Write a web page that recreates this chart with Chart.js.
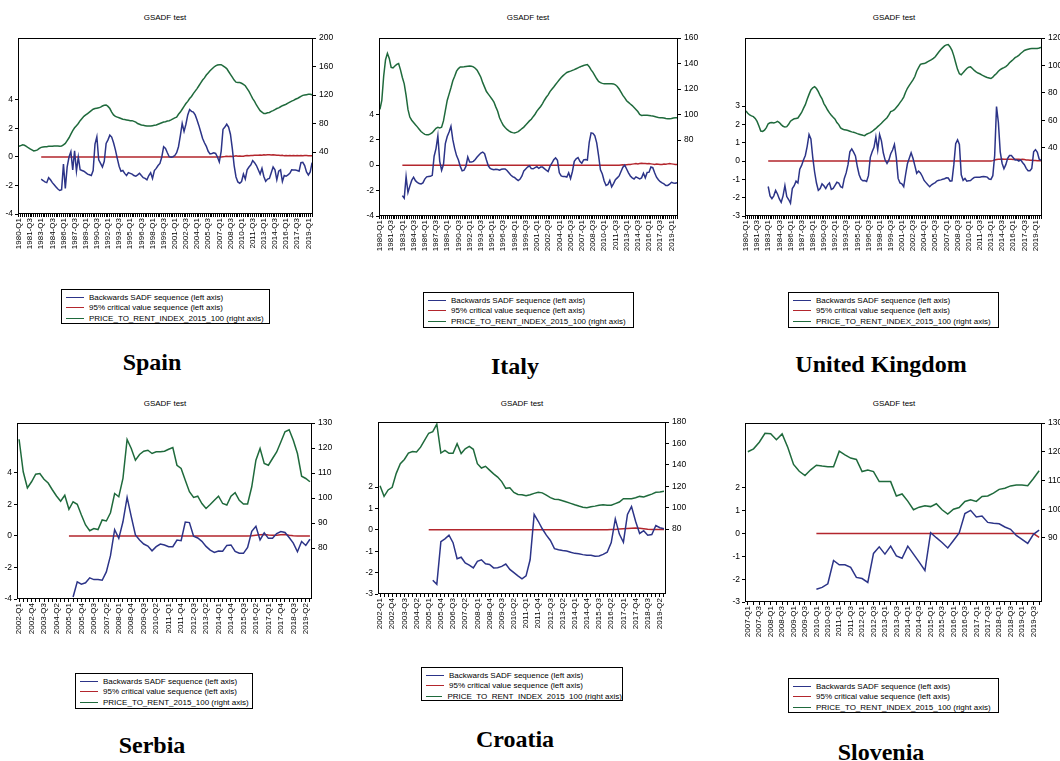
<!DOCTYPE html>
<html>
<head>
<meta charset="utf-8">
<title>GSADF test – price-to-rent bubbles</title>
<script src="https://cdn.jsdelivr.net/npm/chart.js@4.4.1/dist/chart.umd.min.js"></script>
<style>
  html, body { margin: 0; padding: 0; background: #fff; }
  body { position: relative; width: 1060px; height: 761px; overflow: hidden;
         font-family: "Liberation Sans", Arial, sans-serif; }
  canvas { position: absolute; }
  .title { position: absolute; font-size: 8px; color: #000; white-space: nowrap;
           transform: translate(-50%, -50%); }
  .legend { position: absolute; box-sizing: border-box; border: 1px solid #000;
            background: #fff; padding-top: 2px; }
  .legend .row { display: flex; align-items: center; height: 10.5px; font-size: 8px;
                 color: #000; white-space: nowrap; }
  .legend .swatch { width: 18px; height: 0; border-top: 1.5px solid; margin: 0 5px 0 4px; }
  .country { position: absolute; font-family: "Liberation Serif", "Times New Roman", serif;
             font-weight: bold; font-size: 24px; line-height: 1; color: #000; white-space: nowrap;
             transform: translate(-50%, -50%); }
</style>
</head>
<body>
<script>
// ---------- Spain, 1980-Q1 .. 2019-Q3 ----------
const spainPtr = [
  48, 49, 50, 49.5, 48, 46, 44.5, 43, 41.5, 42,
  43, 45, 46.5, 47, 47.5, 47.5, 48, 48, 48, 48.5,
  48.5, 48.5, 48, 48.5, 50, 52, 56, 60, 65, 70,
  74, 77, 80, 84, 87, 90, 92, 94, 96, 98,
  100, 101, 101.5, 102, 103, 104.5, 105.5, 106, 104, 101,
  96, 92, 90, 89, 88, 87, 86, 85.5, 85, 84.5,
  84, 84, 83, 82, 80, 79, 78, 77.5, 77, 76.5,
  76.5, 76.5, 77, 77.5, 78, 79, 80, 81, 82, 82.5,
  83.5, 84, 85, 86.5, 88, 89, 93, 96, 100, 104,
  108, 111, 115, 118, 122, 125.5, 129, 133, 137, 141,
  144, 148, 151, 154, 156.5, 159, 161, 162, 162.5, 162.5,
  161, 159, 157, 153, 149, 145, 141, 138, 137.5, 137.5,
  136.5, 135, 133, 129, 125, 120, 115, 111, 106, 102,
  98, 96, 94, 94, 95, 95.5, 97, 98, 99.5, 101,
  102, 103.5, 105, 106, 107, 108.5, 110, 111.5, 112.5, 114,
  115, 116.5, 118, 119.5, 120, 120.5, 121, 121, 120.5
];
const spainSadf = [
  null, null, null, null, null, null, null, null, null, null, null, null,
  -1.56, -1.65, -1.75, -1.8, -1.45, -1.6, -1.8, -1.95,
  -2.1, -2.25, -2.35, -2.3, -0.5, -2.2, -0.7, 0.0, 0.37, -0.9,
  0.44, -1.0, 0.0, -0.9, -0.95, -1.0, -1.1, -1.2, -1.25, -1.3,
  -0.95, 0.9, 1.42, -0.2, -0.45, -0.7, -0.3, 0.95, 1.2, 1.53,
  1.4, 1.0, 0.5, -0.1, -0.65, -1.0, -0.95, -1.15, -1.3, -1.1,
  -1.15, -1.2, -1.3, -1.35, -1.25, -1.14, -1.3, -1.45, -1.5, -1.6,
  -1.3, -1.1, -1.5, -0.95, -0.8, -0.6, -0.45, 0.0, 0.72, 0.6,
  0.3, 0.02, -0.02, 0.02, 0.1, 0.3, 0.72, 1.5, 2.35, 1.8,
  2.3, 2.95, 3.33, 3.2, 3.15, 2.95, 2.6, 2.2, 1.75, 1.3,
  1.0, 0.75, 0.4, 0.22, 0.25, 0.3, 0.25, 0.0, -0.35, 0.4,
  1.95, 2.1, 2.3, 2.1, 1.6, 0.6, -0.6, -1.4, -1.75, -1.84,
  -1.72, -1.2, -1.55, -0.9, -0.7, -0.55, -0.25, -0.4, -0.6, -0.9,
  -1.2, -0.8, -1.37, -1.7, -1.55, -1.5, -1.1, -0.7, -0.9, -1.6,
  -1.0, -0.9, -1.72, -1.3, -1.35, -1.25, -1.14, -0.9, -0.92, -0.92,
  -0.95, -1.0, -0.4, -0.37, -0.6, -1.05, -1.26, -1.05, -0.4
];
const spainCv = [
  null, null, null, null, null, null, null, null, null, null, null, null,
  0, 0, 0, 0, 0, 0, 0, 0,
  0, 0, 0, 0, 0, 0, 0, 0, 0, 0,
  0, 0, 0, 0, 0, 0, 0, 0, 0, 0,
  0, 0, 0, 0, 0, 0, 0, 0, 0, 0,
  0, 0, 0, 0, 0, 0, 0, 0, 0, 0,
  0, 0, 0, 0, 0, 0, 0, 0, 0, 0,
  0, 0, 0, 0, 0, 0, 0, 0, 0, 0,
  0, 0, 0, 0, 0, 0, 0, 0, 0, 0,
  0, 0, 0, 0, 0, 0, 0, 0, 0, 0,
  0, 0, 0, 0, 0, 0, 0, 0, 0, 0,
  0.02, 0.03, 0.05, 0.03, 0.05, 0.04, 0.06, 0.08, 0.05, 0.07,
  0.06, 0.05, 0.08, 0.1, 0.09, 0.11, 0.1, 0.12, 0.13, 0.12,
  0.14, 0.13, 0.15, 0.14, 0.15, 0.15, 0.14, 0.15, 0.14, 0.13,
  0.12, 0.1, 0.12, 0.08, 0.1, 0.09, 0.1, 0.08, 0.1, 0.09,
  0.1, 0.08, 0.1, 0.09, 0.1, 0.1, 0.09, 0.08, 0.08
];
const spainLeftTicks = [-4, -2, 0, 2, 4];
const spainRightTicks = [40, 80, 120, 160, 200];

// ---------- Italy, 1980-Q1 .. 2019-Q4 ----------
const italyPtr = [
  104, 111, 130, 143, 148, 144, 137, 136.5, 138, 139.3,
  140, 135, 129, 124, 115, 104, 98, 95.5, 93.8, 92,
  90.3, 88.5, 86.7, 85.5, 84.4, 84.2, 84.2, 84.8, 85.7, 87.5,
  89.2, 90, 89.5, 90, 95, 103, 111, 116, 121, 126.5,
  130, 134, 136, 137.3, 137.3, 137.4, 137.6, 137.8, 138, 137.8,
  137.4, 136.3, 134.7, 132, 129.2, 125, 121.5, 118, 116, 114,
  112, 109.8, 106, 102.5, 97.5, 94.3, 91.5, 89.8, 88.3, 87.2,
  86.3, 85.8, 85.5, 86, 86.6, 87.7, 89, 90.1, 91.7, 93.4,
  95, 96.3, 98.3, 100.2, 102.7, 104.5, 106.3, 108.6, 111.2, 113.5,
  115.4, 118, 119.8, 121.6, 123.5, 125.4, 127.2, 129, 130.5, 131.8,
  133, 133.5, 134, 134.6, 135.2, 135.9, 136.6, 137.3, 137.9, 138.4,
  138.9, 139.2, 137.5, 135, 133, 130.5, 128, 126, 125, 124.4,
  124.2, 124.2, 124.2, 124.2, 124.2, 124, 123.3, 122, 120, 117.5,
  115, 113, 110.8, 109.5, 108.2, 107, 105.5, 104, 102.3, 100,
  99.3, 99.4, 99.4, 99.4, 99.3, 99, 98.8, 98.5, 98, 97.7,
  97.5, 97.5, 97.2, 96.8, 96.7, 96.7, 96.9, 97.3, 97.4, 97.5
];
const italySadf = [
  null, null, null, null, null, null, null, null, null, null, null, null,
  -2.4, -2.6, -0.9, -2.15, -1.65, -1.2, -0.95, -1.22,
  -1.35, -1.45, -1.48, -1.4, -1.1, -0.92, -0.9, -0.88, -0.8, 0.7,
  1.3, 2.3, 0.3, -0.4, 0.05, 1.7, 2.25, 2.6, 3.05, 2.0,
  1.3, 0.75, 0.4, -0.1, -0.45, -0.4, -0.1, 0.64, 0.25, 0.24,
  0.3, 0.45, 0.64, 0.8, 0.95, 1.03, 0.9, 0.4, -0.05, -0.25,
  -0.33, -0.37, -0.33, -0.35, -0.4, -0.33, -0.3, -0.3, -0.42, -0.6,
  -0.78, -0.9, -0.97, -1.1, -1.22, -1.1, -0.85, -0.45, -0.3, -0.15,
  -0.05, -0.27, -0.29, -0.2, -0.12, -0.25, -0.15, -0.15, -0.27, -0.4,
  -0.5, -0.1, 0.15, 0.42, 0.57, 0.38, -0.6, -0.85, -0.9, -0.9,
  -0.94, -0.6, -1.05, -0.5, 0.3, 0.5, 0.6, 0.3, 0.15, 0.42,
  0.45, 0.4, 1.8, 2.54, 2.5, 2.3, 1.75, 0.75, -0.37, -0.7,
  -1.25, -1.6, -1.52, -1.2, -1.7, -1.45, -1.15, -1.0, -0.85, -0.5,
  -0.16, 0.0, -0.3, -0.6, -0.85, -1.0, -1.09, -0.92, -1.0, -1.08,
  -1.0, -0.64, -1.0, -0.58, -0.55, -0.15, -0.2, -0.6, -0.95, -1.15,
  -1.3, -1.4, -1.48, -1.6, -1.6, -1.5, -1.35, -1.4, -1.42, -1.38
];
const italyCv = [
  null, null, null, null, null, null, null, null, null, null, null, null,
  0, 0, 0, 0, 0, 0, 0, 0,
  0, 0, 0, 0, 0, 0, 0, 0, 0, 0,
  0, 0, 0, 0, 0, 0, 0, 0, 0, 0,
  0, 0, 0, 0, 0, 0, 0, 0, 0, 0,
  0, 0, 0, 0, 0, 0, 0, 0, 0, 0,
  0, 0, 0, 0, 0, 0, 0, 0, 0, 0,
  0, 0, 0, 0, 0, 0, 0, 0, 0, 0,
  0, 0, 0, 0, 0, 0, 0, 0, 0, 0,
  0, 0, 0, 0, 0, 0, 0, 0, 0, 0,
  0, 0, 0, 0, 0, 0, 0, 0, 0, 0,
  0, 0, 0, 0, 0, 0, 0, 0, 0, 0,
  0, 0, 0, 0, 0, 0, 0, 0, 0,
  0.02, 0.03, 0.02, 0.04, 0.05, 0.06, 0.08, 0.1, 0.12, 0.1, 0.12,
  0.14, 0.12, 0.13, 0.11, 0.12, 0.1, 0.08, 0.06, 0.08, 0.07,
  0.05, 0.06, 0.08, 0.07, 0.1, 0.12, 0.1, 0.08, 0.06, 0.05
];
const italyLeftTicks = [-4, -2, 0, 2, 4];
const italyRightTicks = [80, 100, 120, 140, 160];

// ---------- United Kingdom, 1980-Q1 .. 2019-Q4 ----------
const ukPtr = [
  67, 65.3, 64, 63.3, 62.8, 61.5, 59.3, 56, 52.3, 52,
  53, 54.8, 57.6, 58.3, 58.5, 58.2, 58.6, 59.3, 58.5, 57,
  55.8, 55.2, 55.5, 57.2, 59.5, 60.5, 61.2, 61.5, 61.8, 63.8,
  65.8, 68.8, 71.5, 75.5, 79, 82.2, 83.8, 84.6, 83.2, 81,
  78, 75.8, 72.3, 70, 67.6, 65.5, 63.8, 62.3, 61, 58.5,
  57, 54.6, 53.8, 53.2, 53, 52.7, 52.2, 51.7, 51.4, 51,
  50.4, 50, 49.6, 49.2, 49, 50, 50.6, 51.2, 52, 53.1,
  54.2, 55.5, 56.7, 58, 59.4, 60.7, 62, 64, 66.5, 67,
  67.9, 69.5, 71, 73, 74.8, 77, 80.5, 83.4, 85.5, 87.5,
  89.5, 92, 95.8, 98.5, 100.8, 101.2, 101.4, 102, 102.8, 103.5,
  104.2, 105.2, 106.4, 108.2, 110, 111.7, 113, 114.2, 115, 115.2,
  113.5, 111, 107, 102, 97.2, 94, 93.2, 94.8, 96.3, 97.8,
  98.8, 99, 97.8, 96.4, 95.3, 94.5, 94, 93.2, 92.5, 91.8,
  91.3, 90.9, 90.5, 91.5, 93, 94.2, 95.8, 97, 97.8, 98.4,
  99.2, 100.4, 102, 103.2, 104.4, 105.7, 106.5, 107.4, 108.7, 109.8,
  110.9, 111.4, 111.8, 112.2, 112.3, 112.3, 112.3, 112.3, 112.7, 113.2
];
const ukSadf = [
  null, null, null, null, null, null, null, null, null, null, null, null,
  -1.39, -1.9, -2.05, -1.9, -1.6, -1.8, -2.07, -2.25,
  -1.9, -1.34, -1.94, -2.1, -2.3, -1.5, -1.35, -1.1, -1.2, -0.45,
  -0.24, 0.05, 0.3, 0.8, 1.45, 1.2, 0.2, -0.6, -1.2, -1.6,
  -1.5, -1.25, -1.35, -1.5, -1.3, -1.2, -1.55, -1.5, -1.33, -1.16,
  -1.2, -1.4, -1.45, -0.95, -0.65, -0.2, 0.5, 0.66, 0.48, 0.28,
  -0.3, -0.75, -1.0, -1.08, -1.07, -1.12, -0.8, 0.2, 0.5, 0.75,
  1.32, 0.6, 1.45, 1.1, 0.45, 0.05, -0.13, 0.05, 0.4, 0.6,
  0.9, 0.2, -0.95, -1.2, -1.25, -1.4, -0.75, -0.15, 0.15, 0.45,
  0.15, -0.25, -0.67, -0.55, -0.65, -0.83, -1.06, -1.18, -1.3, -1.4,
  -1.3, -1.23, -1.18, -1.08, -1.05, -1.03, -1.0, -0.97, -0.92, -0.93,
  -1.1, -1.08, -0.2, 0.95, 1.15, 0.9, -0.75, -1.05, -0.95, -1.1,
  -1.08, -1.06, -0.97, -0.9, -0.88, -0.88, -0.88, -0.86, -0.84, -0.86,
  -0.88, -0.98, -1.0, -0.8, 0.3, 2.97, 2.1, 0.5, -0.12, -0.42,
  -0.2, 0.15, 0.3, 0.3, 0.18, 0.06, 0.06, 0.0, 0.06, -0.08,
  -0.2, -0.4, -0.53, -0.53, -0.4, 0.5, 0.62, 0.48, 0.1, 0.03
];
const ukCv = [
  null, null, null, null, null, null, null, null, null, null, null, null,
  0, 0, 0, 0, 0, 0, 0, 0,
  0, 0, 0, 0, 0, 0, 0, 0, 0, 0,
  0, 0, 0, 0, 0, 0, 0, 0, 0, 0,
  0, 0, 0, 0, 0, 0, 0, 0, 0, 0,
  0, 0, 0, 0, 0, 0, 0, 0, 0, 0,
  0, 0, 0, 0, 0, 0, 0, 0, 0, 0,
  0, 0, 0, 0, 0, 0, 0, 0, 0, 0,
  0, 0, 0, 0, 0, 0, 0, 0, 0, 0,
  0, 0, 0, 0, 0, 0, 0, 0, 0, 0,
  0, 0, 0, 0, 0, 0, 0, 0, 0, 0,
  0, 0, 0, 0, 0, 0, 0, 0, 0, 0,
  0, 0, 0, 0, 0, 0, 0, 0, 0, 0, 0, 0, 0,
  0.02, 0.05, 0.08, 0.1, 0.1, 0.11, 0.1, 0.1, 0.09, 0.1,
  0.1, 0.08, 0.1, 0.1, 0.09, 0.08, 0.1, 0.08, 0.06, 0.05,
  0.04, 0.04, 0.03, 0.03, 0.02, 0.02, 0.01
];
const ukLeftTicks = [-3, -2, -1, 0, 1, 2, 3];
const ukRightTicks = [40, 60, 80, 100, 120];

// ---------- Serbia, 2002-Q1 .. 2019-Q3 ----------
const serbiaPtr = [
  123.5, 110.5, 104, 106.5, 109.5, 109.8, 107.5, 106, 103.3, 100.8,
  98.7, 101.1, 95.5, 98.5, 97.5, 93.2, 89.2, 86.9, 87.8, 87.4,
  91.2, 90.8, 94.1, 101.8, 100.5, 107.8, 123.4, 119.8, 115.1, 117.4,
  118.7, 119.1, 117.8, 118.5, 118.5, 118.7, 119.5, 120.2, 113.1, 111.8,
  107.1, 102.5, 100.2, 100.7, 97.8, 95.8, 97.4, 99.1, 100.7, 97.8,
  97.2, 100.7, 102.1, 99.1, 97.6, 97.6, 104.5, 115.1, 119.8, 113.8,
  113.1, 115.8, 118.4, 122.4, 126.5, 127.3, 123.1, 117.8, 108.7, 107.8,
  106.5
];
const serbiaSadf = [
  null, null, null, null, null, null, null, null, null, null, null, null, null,
  -3.87, -2.91, -3.06, -2.97, -2.66, -2.77, -2.77,
  -2.81, -2.28, -1.25, 0.4, -0.15, 0.9, 2.45, 1.23, 0.06, -0.26,
  -0.51, -0.64, -0.94, -0.68, -0.51, -0.57, -0.68, -0.68, -0.26, -0.3,
  0.88, 0.85, -0.02, -0.13, -0.34, -0.66, -0.9, -1.04, -0.95, -0.97,
  -0.6, -0.57, -0.98, -1.1, -1.1, -0.72, 0.3, 0.62, -0.25, 0.2,
  -0.15, -0.15, 0.15, 0.28, 0.22, -0.1, -0.45, -1.0, -0.35, -0.6,
  -0.21
];
const serbiaCv = [
  null, null, null, null, null, null, null, null, null, null, null, null,
  0, 0, 0, 0, 0, 0, 0, 0,
  0, 0, 0, 0, 0, 0, 0, 0, 0, 0,
  0, 0, 0, 0, 0, 0, 0, 0, 0, 0,
  0, 0, 0, 0, 0, 0, 0, 0, 0, 0,
  0, 0, 0, 0, 0, 0,
  0.02, 0.05, 0.08, 0.1, 0.06, 0.04, 0.05, 0.08, 0.1, 0.05,
  0.02, 0, 0, 0, 0
];
const serbiaLeftTicks = [-4, -2, 0, 2, 4];
const serbiaRightTicks = [80, 90, 100, 110, 120, 130];

// ---------- Croatia, 2002-Q1 .. 2019-Q3 ----------
const croatiaPtr = [
  120.5, 110.5, 116.5, 119, 132, 141, 145, 151, 152.5, 152,
  156.5, 163, 169.5, 171, 178, 151, 153.5, 150.8, 150.8, 159.8,
  150.5, 155, 157.2, 154.5, 141, 137, 138.6, 135, 131.5, 128.5,
  124.3, 118, 118.6, 114.2, 112.3, 112.1, 111.2, 112, 113.3, 114.4,
  113.8, 111.6, 109.3, 107.9, 107.5, 106.5, 105.2, 104, 102.7, 101.5,
  100.4, 100, 100.8, 101.4, 102.2, 102.7, 102.3, 102.2, 103.7, 105.2,
  108.3, 108.3, 108.3, 109.3, 110.5, 109.9, 111.3, 112.6, 114.3, 114.6,
  115.2
];
const croatiaSadf = [
  null, null, null, null, null, null, null, null, null, null, null, null, null,
  -2.36, -2.55, -0.55, -0.42, -0.25, -0.6, -1.35,
  -1.28, -1.55, -1.65, -1.78, -1.47, -1.4, -1.59, -1.62, -1.78, -1.77,
  -1.71, -1.6, -1.85, -2.0, -2.15, -2.29, -2.15, -1.4, 0.72, 0.4,
  0.05, -0.25, -0.5, -0.88, -0.93, -0.97, -0.99, -1.05, -1.1, -1.12,
  -1.16, -1.19, -1.19, -1.23, -1.22, -1.15, -1.05, -0.6, 0.51, -0.2,
  -0.58, 0.72, 1.09, 0.4, -0.17, -0.04, -0.25, -0.22, 0.2, 0.1,
  0.05
];
const croatiaCv = [
  null, null, null, null, null, null, null, null, null, null, null, null,
  0, 0, 0, 0, 0, 0, 0, 0,
  0, 0, 0, 0, 0, 0, 0, 0, 0, 0,
  0, 0, 0, 0, 0, 0, 0, 0, 0, 0,
  0, 0, 0, 0, 0, 0, 0, 0, 0, 0,
  0, 0, 0, 0, 0, 0, 0,
  0.01, 0.02, 0.04, 0.05, 0.06, 0.07, 0.08, 0.07, 0.05, 0.03,
  0.02, 0.02, 0.01, 0.01
];
const croatiaLeftTicks = [-3, -2, -1, 0, 1, 2];
const croatiaRightTicks = [80, 100, 120, 140, 160, 180];

// ---------- Slovenia, 2007-Q1 .. 2019-Q4 ----------
const sloveniaPtr = [
  120, 121, 123.3, 126.4, 126.3, 124.2, 126.2, 121.5, 115.6, 113.2,
  111.7, 113.7, 115.3, 115, 114.8, 114.8, 120.2, 118.9, 117.8, 117.3,
  113.1, 113.6, 113.1, 109.6, 109.6, 109.6, 104.6, 105.3, 102.8, 99.8,
  100.7, 101.2, 100.9, 101.9, 99.8, 98.3, 100, 100.6, 102.7, 103.3,
  102.7, 104.4, 104.6, 105.6, 106.9, 107.3, 108.1, 108.4, 108.4, 108.2,
  110.7, 113.4
];
const sloveniaSadf = [
  null, null, null, null, null, null, null, null, null, null, null, null,
  -2.44, -2.36, -2.2, -1.18, -1.37, -1.37, -1.48, -1.92,
  -1.97, -2.14, -0.87, -0.58, -0.9, -0.55, -0.98, -1.08, -0.55, -0.9,
  -1.25, -1.62, 0.04, -0.18, -0.39, -0.63, -0.3, 0.03, 0.88, 1.02,
  0.73, 0.77, 0.49, 0.45, 0.43, 0.29, 0.19, -0.08, -0.25, -0.43,
  -0.03, 0.15
];
const sloveniaCv = [
  null, null, null, null, null, null, null, null, null, null, null, null,
  0, 0, 0, 0, 0, 0, 0, 0,
  0, 0, 0, 0, 0, 0, 0, 0, 0, 0,
  0, 0, 0, 0, 0, 0, 0, 0, 0, 0,
  0, 0, 0, 0, 0, 0, 0, 0, 0, 0,
  0, -0.17
];
const sloveniaLeftTicks = [-3, -2, -1, 0, 1, 2];
const sloveniaRightTicks = [90, 100, 110, 120, 130];

// Quarter category labels such as "1980-Q1"
function quarterLabels(startYear, startQuarter, count) {
  const out = [];
  let y = startYear, q = startQuarter;
  for (let i = 0; i < count; i++) {
    out.push(y + '-Q' + q);
    q++;
    if (q > 4) { q = 1; y++; }
  }
  return out;
}

const spainQuarters = quarterLabels(1980, 1, spainPtr.length);
const italyQuarters = quarterLabels(1980, 1, italyPtr.length);
const ukQuarters = quarterLabels(1980, 1, ukPtr.length);
const serbiaQuarters = quarterLabels(2002, 1, serbiaPtr.length);
const croatiaQuarters = quarterLabels(2002, 1, croatiaPtr.length);
const sloveniaQuarters = quarterLabels(2007, 1, sloveniaPtr.length);

const SERIES_SADF = 'Backwards SADF sequence (left axis)';
const SERIES_CV = '95% critical value sequence (left axis)';
const SERIES_PTR = 'PRICE_TO_RENT_INDEX_2015_100 (right axis)';
const SERIES_PTR_RS = 'PRICE_TO_RENT_2015_100 (right axis)';

const BLUE = '#2c3488';
const RED = '#b3262d';
const GREEN = '#1f6a3c';
const FONT = '"Liberation Sans", Arial, sans-serif';

// Panel layout: plot frame (L,T,R,B), title centre, legend box, country label centre
const panels = [
  { country: 'Spain', labels: spainQuarters, step: 6, sadf: spainSadf, cv: spainCv, ptr: spainPtr, ptrName: SERIES_PTR,
    left: { min: -4, max: 8.35, ticks: spainLeftTicks }, right: { min: -47, max: 200, ticks: spainRightTicks },
    frame: { L: 18, T: 38, R: 313, B: 214 }, title: [165, 17], legend: [61, 289, 209, 35], name: [152, 362] },
  { country: 'Italy', labels: italyQuarters, step: 6, sadf: italySadf, cv: italyCv, ptr: italyPtr, ptrName: SERIES_PTR,
    left: { min: -4, max: 10, ticks: italyLeftTicks }, right: { min: 20.4, max: 160, ticks: italyRightTicks },
    frame: { L: 379, T: 38, R: 678, B: 216 }, title: [528, 17], legend: [423, 292, 211, 36], name: [515, 366] },
  { country: 'United Kingdom', labels: ukQuarters, step: 6, sadf: ukSadf, cv: ukCv, ptr: ukPtr, ptrName: SERIES_PTR,
    left: { min: -3, max: 6.71, ticks: ukLeftTicks }, right: { min: -9.5, max: 120, ticks: ukRightTicks },
    frame: { L: 745, T: 38, R: 1042, B: 216 }, title: [894, 17], legend: [788, 292, 211, 36], name: [881, 364] },
  { country: 'Serbia', labels: serbiaQuarters, step: 3, sadf: serbiaSadf, cv: serbiaCv, ptr: serbiaPtr, ptrName: SERIES_PTR_RS,
    left: { min: -4, max: 7.17, ticks: serbiaLeftTicks }, right: { min: 59.6, max: 130, ticks: serbiaRightTicks },
    frame: { L: 17, T: 423, R: 312, B: 599 }, title: [165, 403], legend: [75, 673, 178, 36], name: [152, 745] },
  { country: 'Croatia', labels: croatiaQuarters, step: 3, sadf: croatiaSadf, cv: croatiaCv, ptr: croatiaPtr, ptrName: SERIES_PTR,
    left: { min: -3, max: 5.04, ticks: croatiaLeftTicks }, right: { min: 19.3, max: 180, ticks: croatiaRightTicks },
    frame: { L: 378, T: 422, R: 666, B: 594 }, title: [522, 403], legend: [421, 667, 202, 34], name: [515, 739] },
  { country: 'Slovenia', labels: sloveniaQuarters, step: 2, sadf: sloveniaSadf, cv: sloveniaCv, ptr: sloveniaPtr, ptrName: SERIES_PTR,
    left: { min: -3, max: 4.85, ticks: sloveniaLeftTicks }, right: { min: 67.7, max: 130, ticks: sloveniaRightTicks },
    frame: { L: 745, T: 423, R: 1042, B: 602 }, title: [894, 403], legend: [788, 678, 211, 35], name: [881, 752] }
];

// Black box around the plotting area
const framePlugin = {
  id: 'plotFrame',
  afterDraw(chart) {
    const a = chart.chartArea;
    const ctx = chart.ctx;
    ctx.save();
    ctx.strokeStyle = '#000';
    ctx.lineWidth = 1;
    const l = Math.round(a.left), t = Math.round(a.top), r = Math.round(a.right), b = Math.round(a.bottom);
    ctx.strokeRect(l + 0.5, t + 0.5, r - l - 1, b - t - 1);
    ctx.restore();
  }
};

const AXIS_LEFT_W = 18, AXIS_RIGHT_W = 30, PAD_TOP = 8, AXIS_X_H = 42;

function addDiv(cls, x, y, text) {
  const d = document.createElement('div');
  d.className = cls;
  d.style.left = x + 'px';
  d.style.top = y + 'px';
  d.textContent = text;
  document.body.appendChild(d);
  return d;
}

function yScale(position, spec, width) {
  return {
    type: 'linear',
    position: position,
    min: spec.min,
    max: spec.max,
    afterBuildTicks: s => { s.ticks = spec.ticks.map(v => ({ value: v })); },
    afterFit: s => { s.width = width; s.paddingTop = 0; s.paddingBottom = 0; },
    border: { display: false },
    grid: { drawOnChartArea: false, drawTicks: true, tickLength: 3, color: '#000', lineWidth: 1 },
    ticks: { padding: position === 'left' ? 2 : 3, color: '#000', font: { family: FONT, size: 8.5 },
             callback: v => String(v) }
  };
}

panels.forEach(p => {
  const f = p.frame;
  const wl = Math.min(AXIS_LEFT_W, f.L);
  const canvas = document.createElement('canvas');
  const w = wl + (f.R - f.L) + AXIS_RIGHT_W;
  const h = PAD_TOP + (f.B - f.T) + AXIS_X_H;
  canvas.width = w; canvas.height = h;
  canvas.style.width = w + 'px'; canvas.style.height = h + 'px';
  canvas.style.left = (f.L - wl) + 'px';
  canvas.style.top = (f.T - PAD_TOP) + 'px';
  document.body.appendChild(canvas);

  new Chart(canvas.getContext('2d'), {
    type: 'line',
    data: {
      labels: p.labels,
      datasets: [
        { label: SERIES_SADF, data: p.sadf, borderColor: BLUE, yAxisID: 'yL' },
        { label: SERIES_CV, data: p.cv, borderColor: RED, yAxisID: 'yL' },
        { label: p.ptrName, data: p.ptr, borderColor: GREEN, yAxisID: 'yR' }
      ]
    },
    options: {
      responsive: false,
      animation: false,
      devicePixelRatio: 1,
      layout: { padding: { top: PAD_TOP, left: 0, right: 0, bottom: 0 } },
      elements: { point: { radius: 0, hoverRadius: 0 }, line: { borderWidth: 1.5, tension: 0 } },
      plugins: { legend: { display: false }, tooltip: { enabled: false }, title: { display: false } },
      events: [],
      scales: {
        x: {
          type: 'category',
          offset: true,
          border: { display: false },
          grid: { drawOnChartArea: false, drawTicks: true, tickLength: 3, color: '#000', lineWidth: 1 },
          ticks: {
            autoSkip: false, minRotation: 90, maxRotation: 90, padding: 1,
            color: '#000', font: { family: FONT, size: 8 },
            callback: (v, i) => (i % p.step === 0 ? p.labels[i] : '')
          },
          afterFit: s => { s.height = AXIS_X_H; s.paddingLeft = 0; s.paddingRight = 0; }
        },
        yL: yScale('left', p.left, wl),
        yR: yScale('right', p.right, AXIS_RIGHT_W)
      }
    },
    plugins: [framePlugin]
  });

  addDiv('title', p.title[0], p.title[1], 'GSADF test');

  const lg = document.createElement('div');
  lg.className = 'legend';
  lg.style.left = p.legend[0] + 'px';
  lg.style.top = p.legend[1] + 'px';
  lg.style.width = p.legend[2] + 'px';
  lg.style.height = p.legend[3] + 'px';
  [[SERIES_SADF, BLUE], [SERIES_CV, RED], [p.ptrName, GREEN]].forEach(([txt, col]) => {
    const row = document.createElement('div');
    row.className = 'row';
    const sw = document.createElement('span');
    sw.className = 'swatch';
    sw.style.borderTopColor = col;
    const t = document.createElement('span');
    t.textContent = txt;
    row.appendChild(sw); row.appendChild(t);
    lg.appendChild(row);
  });
  document.body.appendChild(lg);

  addDiv('country', p.name[0], p.name[1], p.country);
});
</script>
</body>
</html>
